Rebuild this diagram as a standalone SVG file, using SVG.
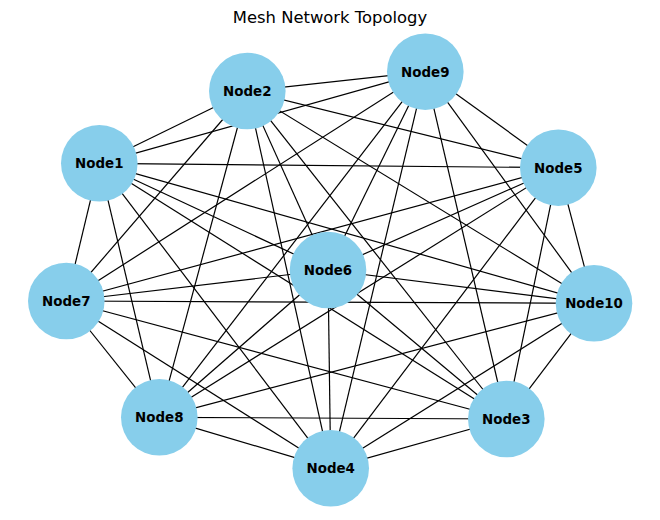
<svg xmlns="http://www.w3.org/2000/svg" width="660" height="520" viewBox="0 0 660 520">
<style>
.e{stroke:#000;stroke-width:1.2;fill:none}
.n circle{fill:#87CEEB}
.n text{font-family:"DejaVu Sans",sans-serif;font-weight:bold;font-size:13.4px;text-anchor:middle;fill:#000}
.t{font-family:"DejaVu Sans",sans-serif;font-size:16.4px;text-anchor:middle;fill:#000}
</style>
<rect width="660" height="520" fill="#fff"/>
<text class="t" x="330" y="22.7">Mesh Network Topology</text>
<g id="edges" class="e">
<line x1="99.3" y1="163.3" x2="247.3" y2="91"/>
<line x1="99.3" y1="163.3" x2="425.3" y2="71.7"/>
<line x1="99.3" y1="163.3" x2="558.3" y2="167.7"/>
<line x1="99.3" y1="163.3" x2="594" y2="303.3"/>
<line x1="99.3" y1="163.3" x2="506.3" y2="419"/>
<line x1="99.3" y1="163.3" x2="330.7" y2="468.3"/>
<line x1="99.3" y1="163.3" x2="159.3" y2="417.3"/>
<line x1="99.3" y1="163.3" x2="66.3" y2="301"/>
<line x1="99.3" y1="163.3" x2="328" y2="270"/>
<line x1="247.3" y1="91" x2="425.3" y2="71.7"/>
<line x1="247.3" y1="91" x2="558.3" y2="167.7"/>
<line x1="247.3" y1="91" x2="594" y2="303.3"/>
<line x1="247.3" y1="91" x2="506.3" y2="419"/>
<line x1="247.3" y1="91" x2="330.7" y2="468.3"/>
<line x1="247.3" y1="91" x2="159.3" y2="417.3"/>
<line x1="247.3" y1="91" x2="66.3" y2="301"/>
<line x1="247.3" y1="91" x2="328" y2="270"/>
<line x1="425.3" y1="71.7" x2="558.3" y2="167.7"/>
<line x1="425.3" y1="71.7" x2="594" y2="303.3"/>
<line x1="425.3" y1="71.7" x2="506.3" y2="419"/>
<line x1="425.3" y1="71.7" x2="330.7" y2="468.3"/>
<line x1="425.3" y1="71.7" x2="159.3" y2="417.3"/>
<line x1="425.3" y1="71.7" x2="66.3" y2="301"/>
<line x1="425.3" y1="71.7" x2="328" y2="270"/>
<line x1="558.3" y1="167.7" x2="594" y2="303.3"/>
<line x1="558.3" y1="167.7" x2="506.3" y2="419"/>
<line x1="558.3" y1="167.7" x2="330.7" y2="468.3"/>
<line x1="558.3" y1="167.7" x2="159.3" y2="417.3"/>
<line x1="558.3" y1="167.7" x2="66.3" y2="301"/>
<line x1="558.3" y1="167.7" x2="328" y2="270"/>
<line x1="594" y1="303.3" x2="506.3" y2="419"/>
<line x1="594" y1="303.3" x2="330.7" y2="468.3"/>
<line x1="594" y1="303.3" x2="159.3" y2="417.3"/>
<line x1="594" y1="303.3" x2="66.3" y2="301"/>
<line x1="594" y1="303.3" x2="328" y2="270"/>
<line x1="506.3" y1="419" x2="330.7" y2="468.3"/>
<line x1="506.3" y1="419" x2="159.3" y2="417.3"/>
<line x1="506.3" y1="419" x2="66.3" y2="301"/>
<line x1="506.3" y1="419" x2="328" y2="270"/>
<line x1="330.7" y1="468.3" x2="159.3" y2="417.3"/>
<line x1="330.7" y1="468.3" x2="66.3" y2="301"/>
<line x1="330.7" y1="468.3" x2="328" y2="270"/>
<line x1="159.3" y1="417.3" x2="66.3" y2="301"/>
<line x1="159.3" y1="417.3" x2="328" y2="270"/>
<line x1="66.3" y1="301" x2="328" y2="270"/>
</g>
<g id="node1" class="n"><circle cx="99.3" cy="163.3" r="38.3"/><text x="99.3" y="168.1">Node1</text></g>
<g id="node2" class="n"><circle cx="247.3" cy="91" r="38.3"/><text x="247.3" y="95.8">Node2</text></g>
<g id="node9" class="n"><circle cx="425.3" cy="71.7" r="38.3"/><text x="425.3" y="76.5">Node9</text></g>
<g id="node5" class="n"><circle cx="558.3" cy="167.7" r="38.3"/><text x="558.3" y="172.5">Node5</text></g>
<g id="node10" class="n"><circle cx="594" cy="303.3" r="38.3"/><text x="594" y="308.1">Node10</text></g>
<g id="node3" class="n"><circle cx="506.3" cy="419" r="38.3"/><text x="506.3" y="423.8">Node3</text></g>
<g id="node4" class="n"><circle cx="330.7" cy="468.3" r="38.3"/><text x="330.7" y="473.1">Node4</text></g>
<g id="node8" class="n"><circle cx="159.3" cy="417.3" r="38.3"/><text x="159.3" y="422.1">Node8</text></g>
<g id="node7" class="n"><circle cx="66.3" cy="301" r="38.3"/><text x="66.3" y="305.8">Node7</text></g>
<g id="node6" class="n"><circle cx="328" cy="270" r="38.3"/><text x="328" y="274.8">Node6</text></g>
</svg>
